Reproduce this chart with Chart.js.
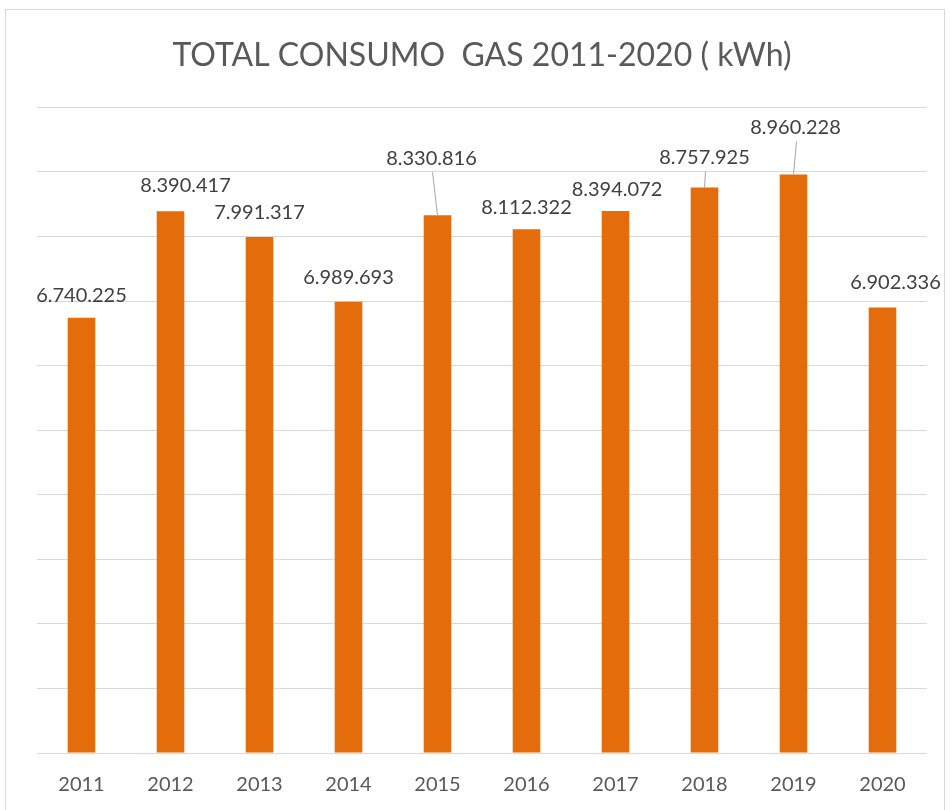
<!DOCTYPE html>
<html>
<head>
<meta charset="utf-8">
<script src="https://cdn.jsdelivr.net/npm/chart.js@4/dist/chart.umd.min.js"></script>
<style>
  html, body { margin: 0; padding: 0; background: #fff; }
  #frame { position: absolute; left: 5px; top: 9px; width: 940px; height: 810px; border: 1px solid #d9d9d9; box-sizing: border-box; }
  #wrap { position: absolute; left: 0; top: 0; width: 950px; height: 810px; }
</style>
</head>
<body>
<div id="frame"></div>
<div id="wrap"><canvas id="chart"></canvas></div>
<script>
const years = ['2011', '2012', '2013', '2014', '2015', '2016', '2017', '2018', '2019', '2020'];
const consumo = [6740225, 8390417, 7991317, 6989693, 8330816, 8112322, 8394072, 8757925, 8960228, 6902336];

// label nudges (px) relative to the top of each bar, like the moved Excel labels
const labelDx = [0, 15, 0, 0, -6, 0, 1.5, 0, 2, 13];
const labelDy = [-22, -26, -25, -24, -57, -22, -22, -30, -47, -25];
const leader = [false, false, false, false, true, false, false, true, true, false];

const fmt = v => v.toString().replace(/\B(?=(\d{3})+(?!\d))/g, '.');

const valueLabels = {
    id: 'valueLabels',
    afterDatasetsDraw(chart) {
        const ctx = chart.ctx;
        const meta = chart.getDatasetMeta(0);
        ctx.save();
        ctx.font = '20px Lato';
        ctx.fillStyle = '#404040';
        ctx.textAlign = 'center';
        ctx.textBaseline = 'middle';
        meta.data.forEach((bar, i) => {
            const x = bar.x + labelDx[i];
            const y = bar.y + labelDy[i];
            if (leader[i]) {
                ctx.strokeStyle = '#a6a6a6';
                ctx.lineWidth = 1;
                ctx.beginPath();
                ctx.moveTo(x + 1, y + 14);
                ctx.lineTo(bar.x, bar.y);
                ctx.stroke();
            }
            ctx.fillText(fmt(consumo[i]), x, y);
        });
        ctx.restore();
    }
};

new Chart(document.getElementById('chart').getContext('2d'), {
    type: 'bar',
    data: {
        labels: years,
        datasets: [
            {
                label: 'Consumo gas',
                data: consumo,
                backgroundColor: '#e46c0a',
                borderWidth: 0,
                categoryPercentage: 1,
                barPercentage: 0.31,
            },
        ],
    },
    options: {
        responsive: true,
        maintainAspectRatio: false,
        animation: false,
        layout: { padding: { left: 37, right: 23, top: 0, bottom: 13 } },
        plugins: {
            legend: { display: false },
            tooltip: { enabled: false },
            title: {
                display: true,
                text: 'TOTAL CONSUMO  GAS 2011-2020 ( kWh)',
                color: '#595959',
                font: { family: 'Lato', size: 32, weight: 'normal', lineHeight: 1.2 },
                padding: { top: 36, bottom: 33 },
            },
        },
        scales: {
            x: {
                grid: { display: false, drawTicks: false },
                border: { display: false },
                ticks: { color: '#595959', font: { family: 'Lato', size: 20 }, padding: 20 },
                afterFit: (axis) => { axis.height = 44; },
            },
            y: {
                min: 0,
                max: 10000000,
                ticks: { display: false, stepSize: 1000000 },
                grid: { color: '#d9d9d9', lineWidth: 1, drawTicks: false },
                border: { display: false },
            },
        },
    },
    plugins: [valueLabels],
});
</script>
</body>
</html>
